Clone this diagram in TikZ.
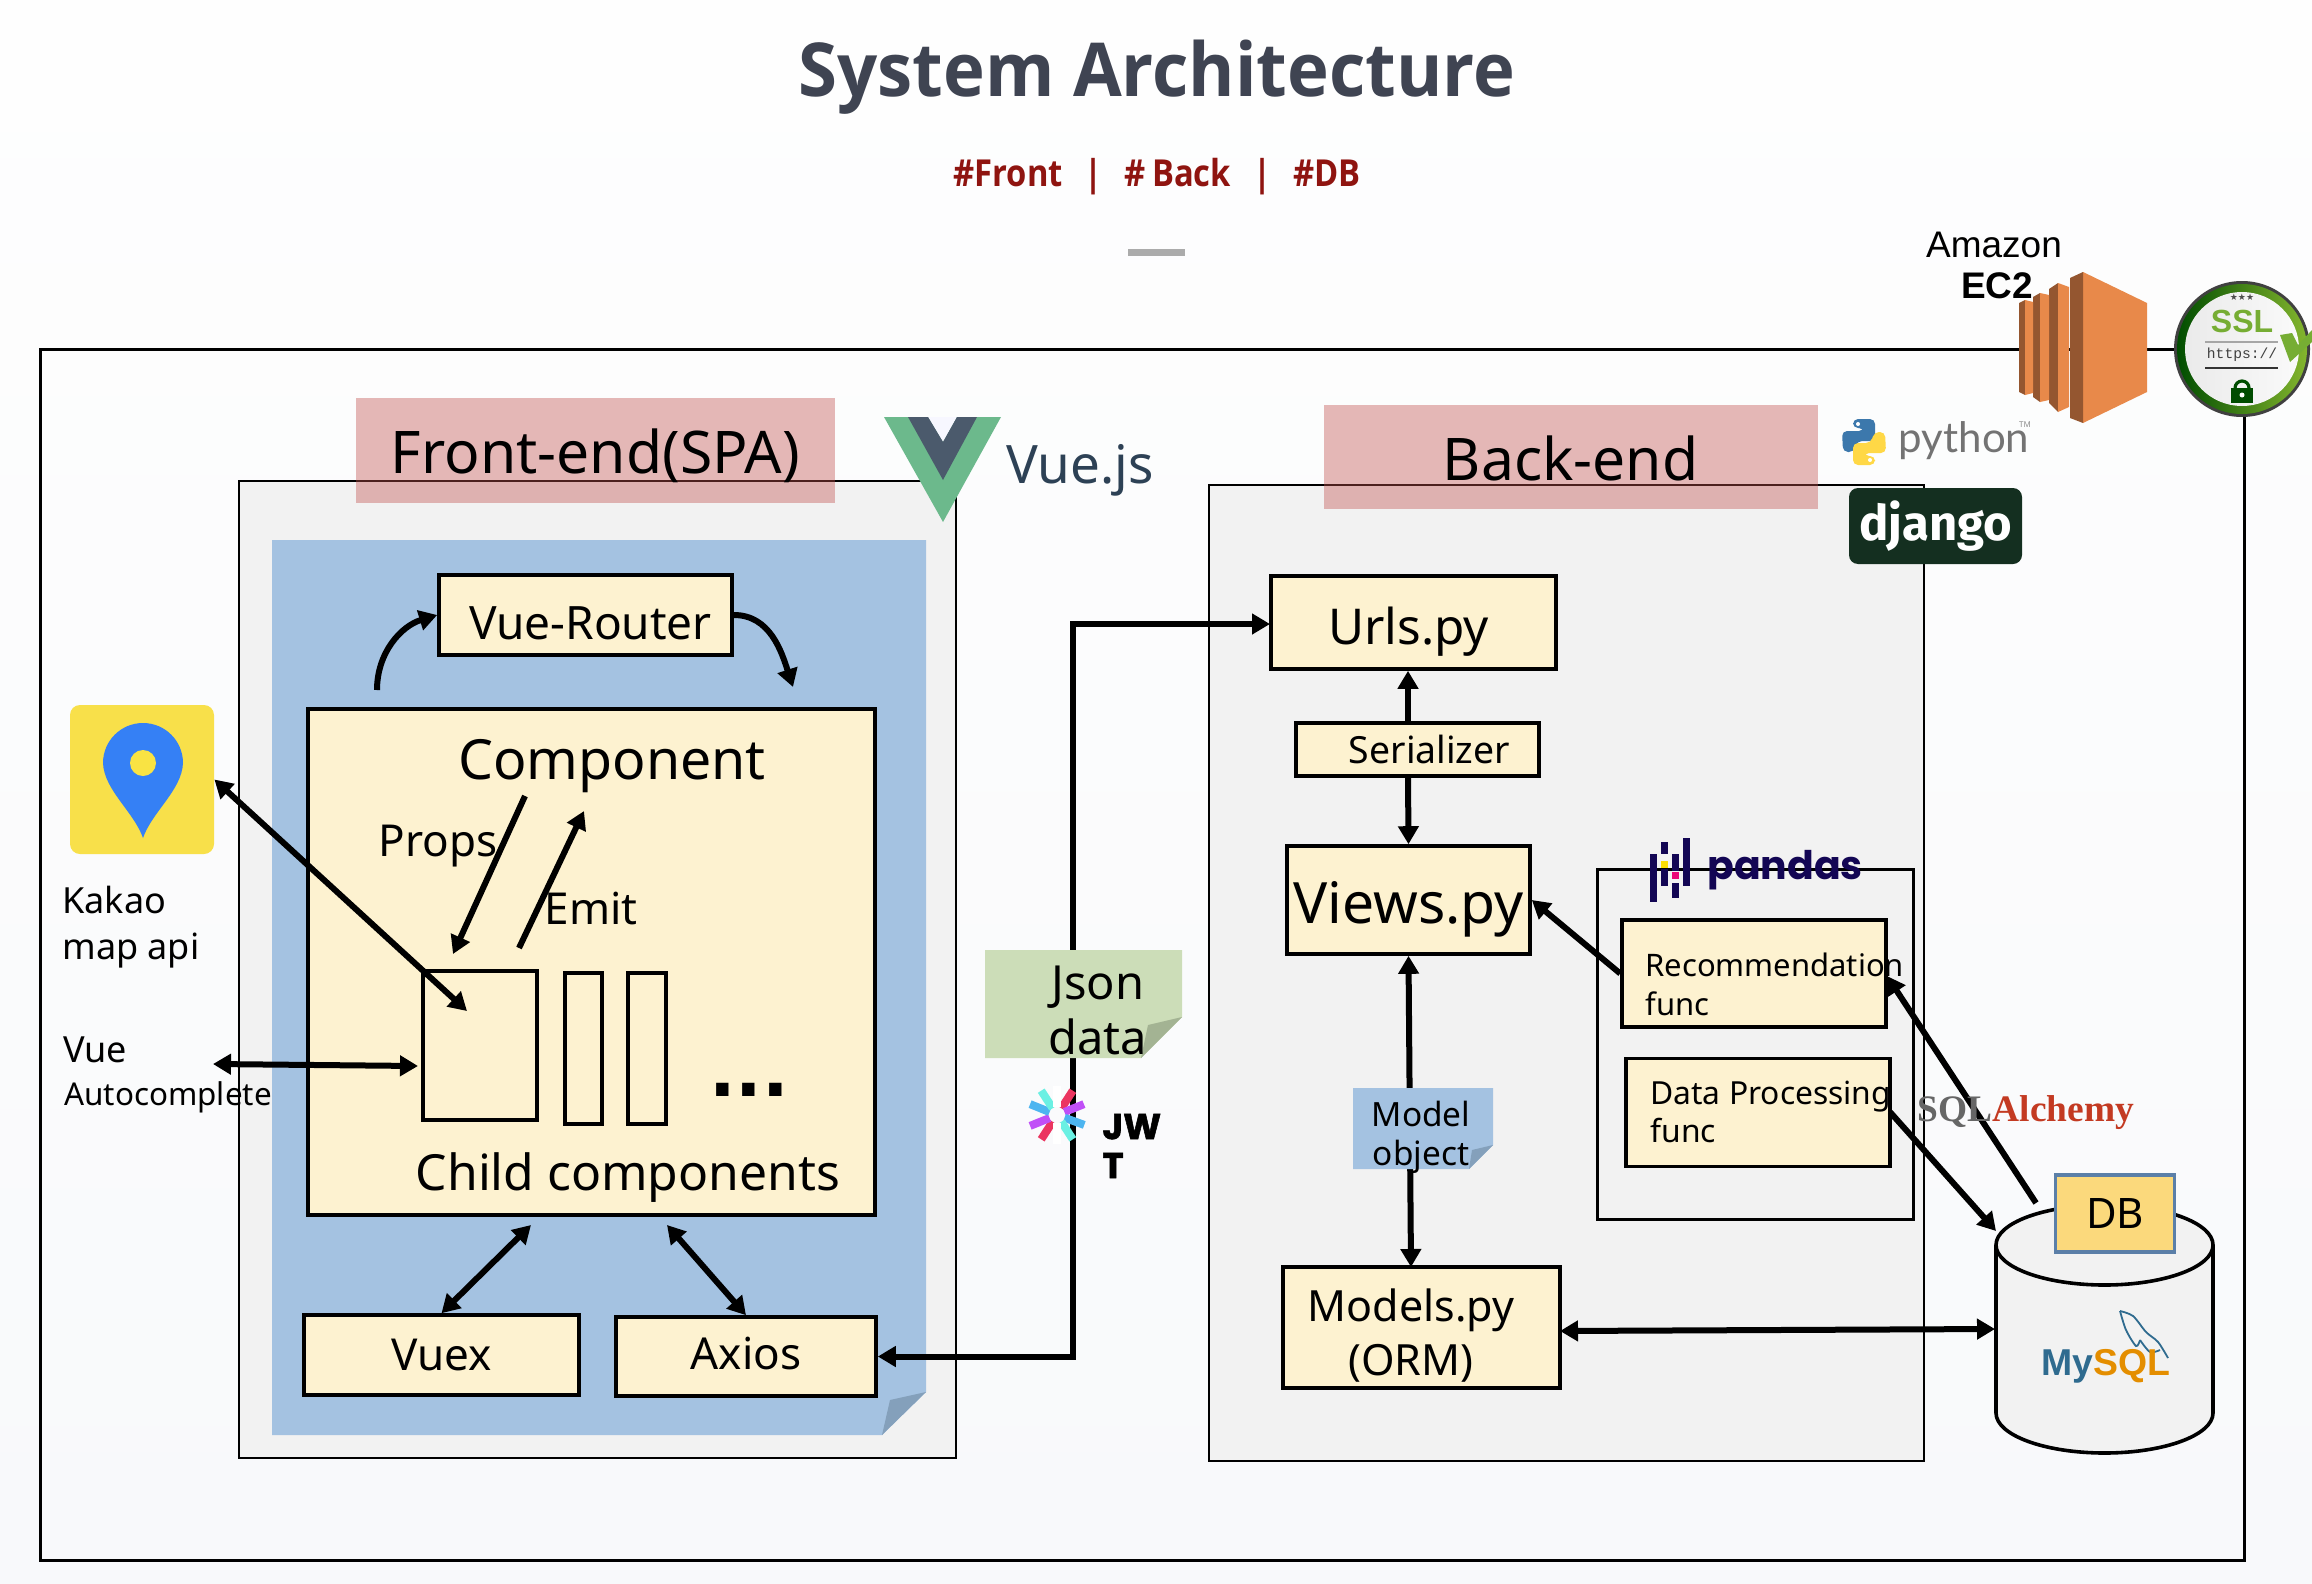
\documentclass[tikz,border=0pt]{standalone}
\usepackage{fontspec}
\usetikzlibrary{arrows.meta}
\setmainfont{Noto Sans}
\newfontfamily\headfont[FakeStretch=0.95]{Open Sans}
\newfontfamily\tagfont[FakeStretch=0.88]{Open Sans}
\newfontfamily\poppins{Poppins}
\newfontfamily\jwtfont[BoldFeatures={FakeBold=1.5}]{Poppins}
\newfontfamily\lato{Lato}
\newfontfamily\firasans{Fira Sans}
\newfontfamily\libsans{Liberation Sans}
\newfontfamily\libserif{Liberation Serif}
\newfontfamily\libmono{Liberation Mono}
\newfontfamily\dejavu{DejaVu Sans}
\newcommand{\fsz}[2]{\fontsize{#1pt}{#2pt}\selectfont}
\definecolor{pagetop}{HTML}{FEFEFE}
\definecolor{pagebottom}{HTML}{F8F9FB}
\definecolor{panelgray}{HTML}{F2F2F2}
\definecolor{paperblue}{HTML}{A4C2E1}
\definecolor{foldblue}{HTML}{84A0BB}
\definecolor{cream}{HTML}{FDF2D0}
\definecolor{titlegray}{HTML}{3F4452}
\definecolor{tagred}{HTML}{8F1410}
\definecolor{notegreen}{HTML}{CCDDB8}
\definecolor{foldgreen}{HTML}{A3B393}
\definecolor{pinkbase}{HTML}{C0504D}
\definecolor{vuegreen}{HTML}{6CB98C}
\definecolor{vuedark}{HTML}{4B5A6C}
\definecolor{vuetext}{HTML}{2D4155}
\definecolor{kakaoyellow}{HTML}{F8E04A}
\definecolor{kakaoblue}{HTML}{3580F5}
\definecolor{ecorange}{HTML}{E8894A}
\definecolor{ecdark}{HTML}{945630}
\definecolor{sslgreen}{HTML}{76AD33}
\definecolor{pandanavy}{HTML}{130654}
\definecolor{djangogreen}{HTML}{142F20}
\definecolor{dbyellow}{HTML}{FBD97C}
\definecolor{dbsteel}{HTML}{5B7FA8}
\definecolor{mysqlblue}{HTML}{2F6B8F}
\definecolor{mysqlorange}{HTML}{E48E00}
\definecolor{alchemyred}{HTML}{C33A22}
\definecolor{pyblue}{HTML}{3C78AC}
\definecolor{pyyellow}{HTML}{FFD846}
\tikzset{
  panel/.style={draw=black, line width=0.7pt, fill=panelgray, inner sep=0pt},
  titlebar/.style={fill=pinkbase, fill opacity=0.4, text opacity=1, inner sep=0pt, text height=23pt, text depth=0pt, font=\fsz{29.4}{34}},
  box/.style={draw=black, line width=1.8pt, fill=cream, inner sep=0pt, font=\fsz{22}{26}},
  plain/.style={inner sep=0pt, font=\fsz{22}{26}},
  arr/.style={line width=3pt, -{Triangle[length=9pt,width=10pt]}},
  biarr/.style={line width=3pt, {Triangle[length=9pt,width=10pt]}-{Triangle[length=9pt,width=10pt]}}
}

\begin{document}
\begin{tikzpicture}[x=0.5pt, y=-0.5pt]

\useasboundingbox (0,0) rectangle (2312,1584);
\shade[top color=pagetop, bottom color=pagebottom] (0,0) rectangle (2312,1584);

% heading
\node[plain, text=titlegray, font=\headfont\fsz{37.2}{46}\bfseries] (title) at (1157,77) {System Architecture};
\node[plain, text=tagred, font=\tagfont\fsz{18.6}{24}\bfseries] (tags) at (1157,177) {\#Front\hspace{11pt}|\hspace{11pt}\#\,Back\hspace{11pt}|\hspace{11pt}\#DB};
\fill[black!33] (1128,249) rectangle (1185,256);

% outer frame
\node[draw=black, line width=1.5pt, inner sep=0pt, minimum width=1102pt, minimum height=605.5pt] (frame) at (1142,954.5) {};

% front-end
\node[panel, minimum width=358.5pt, minimum height=488.5pt] (frontpanel) at (597.5,969.5) {};
\fill[paperblue] (272,540) -- (926,540) -- (926,1392) -- (882,1435) -- (272,1435) -- cycle;
\fill[foldblue] (926,1392) -- (882,1435) -- (890,1400) -- cycle;
\node[titlebar, minimum width=239.5pt, minimum height=52.5pt] (fronttitle) at (595.5,450.5) {Front-end(SPA)};

\node[box, minimum width=146.5pt, minimum height=40pt, text height=24pt, text depth=0pt, font=\fsz{23}{26}] (router) at (585.5,615) {\hspace*{5pt}Vue-Router};

\node[box, minimum width=283.5pt, minimum height=253pt] (component) at (591.5,962) {};
\node[plain, font=\fsz{27.7}{32}] (componenttxt) at (612,766) {Component};
\node[plain] (propstxt) at (438,846) {Props};
\node[plain] (emittxt) at (591,908) {Emit};
\node[plain, font=\fsz{24.9}{30}] (childtxt) at (628,1178) {Child components};
\node[box, minimum width=57pt, minimum height=74.5pt] (child) at (480,1045.5) {};
\node[box, minimum width=18.5pt, minimum height=75.5pt] (childb) at (583.5,1048.5) {};
\node[box, minimum width=19pt, minimum height=75.5pt] (childc) at (647,1048.5) {};
\node[plain, font=\dejavu\fsz{35}{40}\bfseries] (dots) at (749,1090) {...};

\node[box, minimum width=137.5pt, minimum height=40pt] (vuex) at (441.5,1355) {Vuex};
\node[box, minimum width=130pt, minimum height=39.5pt, text height=13pt, text depth=0pt] (axios) at (746,1356.5) {Axios};

\coordinate (routerL) at (377,690);
\coordinate (routerR) at (793,687);
\draw[arr] (routerL) to[out=90,in=197] (router.west);
\draw[arr] (router.east) to[out=0,in=108] (routerR);
\coordinate (propsA) at (525,796);
\coordinate (propsB) at (453,954);
\draw[arr] (propsA) -- (propsB);
\coordinate (emitA) at (519,948);
\coordinate (emitB) at (584,811);
\draw[arr] (emitA) -- (emitB);
\coordinate (vuexup) at (531,1225);
\draw[biarr] (vuex.north) -- (vuexup);
\coordinate (axiosup) at (667,1225);
\draw[biarr] (axios.north) -- (axiosup);

% vue logo
\fill[vuegreen] (884,417) -- (1001,417) -- (943,522) -- cycle;
\fill[white!97!blue] (928,417) -- (957,417) -- (943,442) -- cycle;
\fill[vuedark] (908,417) -- (928,417) -- (943,442) -- (957,417) -- (977,417) -- (943,480) -- cycle;
\node[plain, text=vuetext, font=\fsz{26.5}{30}] (vuejs) at (1080,470) {Vue.js};

% kakao
\node[fill=kakaoyellow, rounded corners=5pt, minimum width=72pt, minimum height=74.5pt, inner sep=0pt] (kakao) at (142,779.5) {};
\fill[kakaoblue] (143,838) .. controls (134,812) and (104,790) .. (103,763) arc[start angle=180, end angle=360, radius=40] .. controls (182,790) and (152,812) .. (143,838) -- cycle;
\fill[kakaoyellow!90!yellow] (143,763) circle[radius=13];
\node[plain, anchor=west, align=left, font=\fsz{18}{23}] (kakaotxt) at (62,927) {Kakao\\map api};
\node[plain, anchor=west, font=\fsz{18}{22}] (vuetxt) at (63,1050) {Vue};
\node[plain, anchor=west, font=\fsz{15.7}{20}] (autotxt) at (64,1097) {Autocomplete};

\coordinate (kakaotip) at (467,1011);
\draw[biarr] (kakao.east) -- (kakaotip);
\coordinate (autoL) at (213,1064);
\coordinate (autoR) at (418,1066);
\draw[biarr] (autoL) -- (autoR);

% back-end
\node[panel, minimum width=357.5pt, minimum height=488pt] (backpanel) at (1566.5,973) {};
\node[titlebar, minimum width=247pt, minimum height=52pt] (backtitle) at (1570.5,457) {Back-end};

\node[box, minimum width=142.5pt, minimum height=46.5pt, text height=22pt, text depth=0pt, font=\fsz{24.7}{28}] (urls) at (1413.5,622.5) {Urls.py\hspace*{5pt}};
\node[box, minimum width=121.5pt, minimum height=26.5pt, font=\fsz{18.7}{22}] (serializer) at (1417.5,749.5) {\hspace*{12pt}Serializer};
\node[box, minimum width=121.5pt, minimum height=54pt, text height=23pt, text depth=0pt, font=\fsz{28.5}{32}] (views) at (1408.5,900) {Views.py};
\node[box, minimum width=138.5pt, minimum height=60.5pt] (models) at (1421.5,1327.5) {};
\node[plain, align=center, font=\fsz{21.5}{27}] (modelstxt) at (1411,1336) {Models.py\\(ORM)};

\coordinate (urlsup) at (1408,723);
\draw[arr] (urlsup) -- (urls.south -| urlsup);
\coordinate (viewsup) at (1408,776);
\draw[arr] (viewsup) -- (views.north);
\coordinate (modelsup) at (1411,1267);
\draw[biarr] (views.south) -- (modelsup);
\fill[paperblue] (1353,1088) -- (1493,1088) -- (1493,1145) -- (1469,1169) -- (1353,1169) -- cycle;
\fill[foldblue] (1493,1145) -- (1469,1169) -- (1472,1150) -- cycle;
\node[plain, align=center, font=\fsz{16.7}{19.5}] (modeltxt) at (1421,1137) {Model\\object};

% json link
\coordinate (urlsturn) at (1073,624);
\coordinate (urlstip) at (1270,624);
\draw[biarr] (axios.east) -| (urlsturn) -- (urlstip);
\fill[notegreen] (985,950) -- (1182,950) -- (1182,1017) -- (1141,1058) -- (985,1058) -- cycle;
\fill[foldgreen] (1182,1017) -- (1141,1058) -- (1148,1025) -- cycle;
\node[plain, align=center, font=\fsz{23.5}{27.5}] (jsontxt) at (1098,1010) {Json\\data};

% jwt mark
\coordinate (jwt) at (1057,1115);
\foreach \ang/\col in {-57/EB3560, -22/C04FF7, 20/4DB5F0, 57/6BF0E3, 123/EB3560, 158/C04FF7, 202/4DB5F0, 237/6BF0E3, 90/FFFFFF, 270/FFFFFF} {
  \definecolor{raycol}{HTML}{\col}
  \draw[raycol, line width=4pt] ([shift={(\ang:8)}]jwt) -- ([shift={(\ang:29)}]jwt);
}
\node[plain, anchor=west, align=left, font=\jwtfont\fsz{18}{19.5}\bfseries] (jwttxt) at (1102,1146) {JW\\T};

% pandas group
\node[draw=black, line width=1.5pt, fill=panelgray, inner sep=0pt, minimum width=158pt, minimum height=175pt] (pandasbox) at (1755,1044) {};
\foreach \x/\a/\b in {1650/854/902, 1661/842/854, 1661/869/886, 1672/854/871, 1672/883/898, 1683/838/886} {
  \fill[pandanavy] (\x,\a) rectangle (\x+7,\b);
}
\fill[yellow!80!orange] (1661,861) rectangle (1668,868);
\fill[magenta!80!red] (1672,872) rectangle (1679,879);
\node[plain, text=pandanavy, anchor=base west, font=\poppins\fsz{19.7}{24}\bfseries] (pandastxt) at (1707,879) {pandas};
\node[box, minimum width=132pt, minimum height=53.5pt] (recbox) at (1754,973.5) {};
\node[box, minimum width=132pt, minimum height=54pt] (dpbox) at (1758,1112.5) {};
\node[plain, anchor=west, align=left, font=\fsz{15.5}{19.5}] (rectxt) at (1645,984) {Recommendation\\func};
\node[plain, anchor=west, align=left, font=\fsz{15.9}{19}] (dptxt) at (1650,1112) {Data Processing\\func};

\draw[arr] (recbox.west) -- (views.east);

% db
\draw[fill=panelgray, line width=1.8pt] (1996,1245) -- (1996,1413) arc[start angle=180, end angle=0, x radius=108.5, y radius=40] -- (2213,1245) arc[start angle=0, end angle=-180, x radius=108.5, y radius=40] arc[start angle=180, end angle=0, x radius=108.5, y radius=40];
\node[draw=dbsteel, line width=1.6pt, fill=dbyellow, inner sep=0pt, minimum width=59.5pt, minimum height=38.5pt, font=\fsz{21}{24}] (dbbox) at (2115,1213.5) {DB};
\coordinate (modelsR) at (1560,1331);
\coordinate (dbleft) at (1995,1329);
\coordinate (dbin) at (1996,1231);
\coordinate (dbout) at (2036,1203);
\coordinate (rectip) at (1887,976);
\coordinate (dpout) at (1890,1112);
\draw[arr] (dbout) -- (rectip);
\draw[arr] (dpout) -- (dbin);
\draw[biarr] (modelsR) -- (dbleft);

% mysql mark
\draw[mysqlblue, line width=0.9pt] plot[smooth] coordinates {(2120,1311) (2133,1316) (2146,1332) (2158,1342) (2168,1358)};
\draw[mysqlblue, line width=0.9pt] plot[smooth] coordinates {(2120,1311) (2126,1330) (2136,1346) (2140,1340)};
\draw[mysqlblue, line width=0.9pt] plot[smooth] coordinates {(2140,1340) (2150,1352) (2160,1350)};
\node[plain, anchor=base west, font=\libsans\fsz{18.7}{20}\bfseries] (mysqltxt) at (2041,1375) {\textcolor{mysqlblue}{My}\textcolor{mysqlorange}{SQL}};

% sqlalchemy
\node[plain, font=\libserif\fsz{18.7}{22}\bfseries] (sqlatxt) at (2026,1113) {\textcolor{black!60}{SQL}\textcolor{alchemyred}{Alchemy}};

% python and django
\fill[pyblue, rounded corners=2.5pt] (1853,419) -- (1875,419) -- (1875,441) -- (1857,441) -- (1854,452) -- (1843,452) -- (1842,431) -- (1864,431) -- (1864,428) -- (1853,428) -- cycle;
\fill[pyyellow, rounded corners=2.5pt] (1875,465) -- (1853,465) -- (1853,443) -- (1871,443) -- (1874,432) -- (1885,432) -- (1886,453) -- (1864,453) -- (1864,456) -- (1875,456) -- cycle;
\fill[white] (1858,424) circle[radius=2] (1870,460) circle[radius=2];
\node[plain, text=black!55, font=\lato\fsz{21}{25}] (pythontxt) at (1964,441) {python};
\node[plain, text=black!45, font=\fsz{4}{5}] (tmtxt) at (2025,425) {TM};
\node[fill=djangogreen, rounded corners=4.5pt, text=white, inner sep=0pt, minimum width=86.5pt, minimum height=38pt, font=\firasans\fsz{24.5}{30}\bfseries] (django) at (1935.5,526) {django};

% ec2
\node[plain, font=\libsans\fsz{18.5}{22}] (amazontxt) at (1994,245) {Amazon};
\node[plain, font=\libsans\fsz{18.5}{22}\bfseries] (ectxt) at (1997,286) {EC2};
\fill[ecorange] (2083,272) -- (2147,303) -- (2147,392) -- (2083,423) -- cycle;
\fill[ecdark] (2070,278) -- (2083,272) -- (2083,423) -- (2070,418) -- cycle;
\foreach \xa/\xb/\xc/\ta/\tb/\tc/\ba/\bb/\bc in {2049/2058/2069/289/283/287/403/412/407, 2033/2040/2049/297/293/295/397/402/400, 2019/2025/2033/303/300/302/392/395/393} {
  \fill[ecdark] (\xa,\ta) -- (\xb,\tb) -- (\xb,\bb) -- (\xa,\ba) -- cycle;
  \fill[ecorange] (\xb,\tb) -- (\xc,\tc) -- (\xc,\bc) -- (\xb,\bb) -- cycle;
}

% ssl badge
\coordinate (ssl) at (2242,349);
\fill[black!75] (ssl) circle[radius=68];
\shade[left color=green!30!black, right color=sslgreen!90!yellow] (ssl) circle[radius=65];
\shade[left color=black!8, right color=black!2] (ssl) circle[radius=57];
\node[plain, text=sslgreen, font=\libsans\fsz{16}{18}\bfseries] (ssltxt) at (2242,321) {SSL};
\node[plain, text=black!75, font=\libmono\fsz{7.3}{9}] (httpstxt) at (2242,355) {https://};
\node[plain, text=black!70, font=\dejavu\fsz{4.5}{5}] (starstxt) at (2242,297) {★★★};
\draw[black!35, line width=0.6pt] (2205,342) -- (2278,342);
\draw[black!80, line width=0.6pt] (2205,368) -- (2278,368);
\fill[green!30!black] (2231,388) rectangle (2253,403);
\draw[green!30!black, line width=1.6pt] (2235,388) arc[start angle=180, end angle=360, radius=7];
\fill[white] (2242,395) circle[radius=2.5];
\fill[sslgreen] (2280,335) -- (2292,333) -- (2298,345) -- (2312,330) -- (2312,342) -- (2290,362) -- cycle;

\end{tikzpicture}
\end{document}
